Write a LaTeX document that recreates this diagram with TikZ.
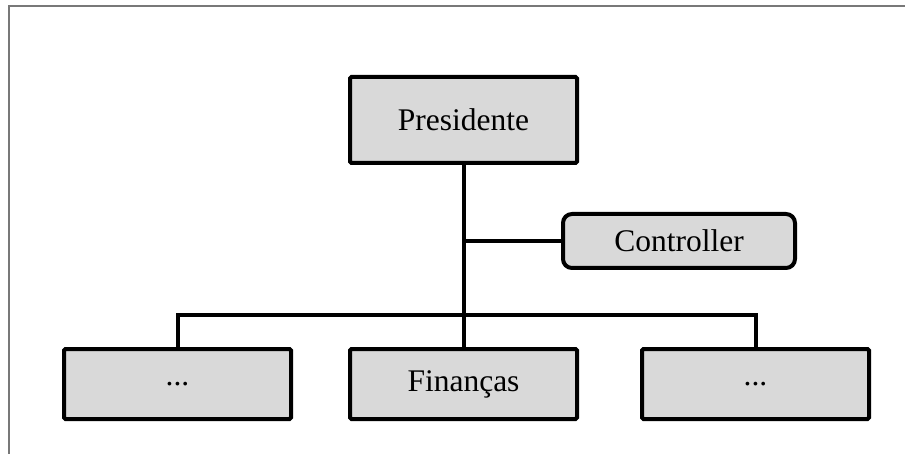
\documentclass[tikz,border=0pt]{standalone}
\usepackage{fontspec}
\setmainfont{Liberation Serif}
\usepackage{tikz}
\usetikzlibrary{positioning}
\definecolor{boxgray}{RGB}{217,217,217}
\definecolor{framegray}{RGB}{120,120,120}

\begin{document}
\begin{tikzpicture}[x=1pt, y=-1pt,
    block/.style={draw, fill=boxgray, line width=4pt, rounded corners=1.5pt, minimum width=227pt, minimum height=86pt, font=\fontsize{31.5}{38}\selectfont},
    lowblock/.style={block, minimum height=70pt},
    ctrlbox/.style={block, rounded corners=9pt, minimum width=232pt, minimum height=54pt},
    signal/.style={line width=4pt},
    frame/.style={draw=framegray, line width=2pt}
]
\useasboundingbox (0,0) rectangle (905,454);

% Frame lines
\draw[frame] (9,454) -- (9,6) -- (905,6);

% Presidente
\node[block] (pres) at (463.5,120) {Presidente};

% Controller
\node[ctrlbox] (ctrl) at (679,241) {Controller};

% Bottom row
\node[lowblock] (left) at (177.5,384) {...};
\node[lowblock] (fin) at (463.5,384) {Finanças};
\node[lowblock] (right) at (755.5,384) {...};

% Connections
\coordinate (bus) at (463.5,315);
\draw[signal] (pres.south) -- (fin.north);
\draw[signal] (pres.south |- ctrl.west) -- (ctrl.west);
\draw[signal] (left.north) |- (bus) -| (right.north);

\end{tikzpicture}
\end{document}
